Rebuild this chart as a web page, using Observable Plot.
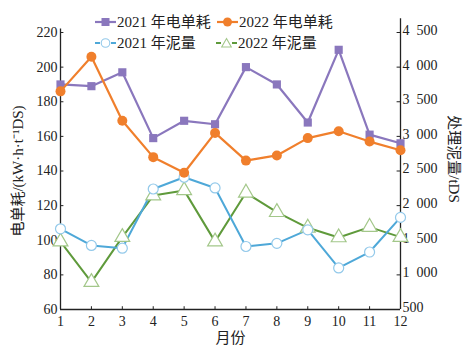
<!DOCTYPE html>
<html><head><meta charset="utf-8">
<script src="https://cdn.jsdelivr.net/npm/d3@7"></script>
<script src="https://cdn.jsdelivr.net/npm/@observablehq/plot@0.6"></script>
<style>
body{margin:0;background:#fff}
#wrap{position:relative;width:470px;height:355px;font-family:"Liberation Serif","Noto Sans CJK SC",serif}
.lg{position:absolute;display:flex;align-items:center;font-size:15px;color:#222;white-space:nowrap;line-height:1}
.lg svg{margin-right:1px}
</style>
</head><body><div id="wrap"></div>
<script>
const months = [1,2,3,4,5,6,7,8,9,10,11,12];
const elec2021 = [190,189,197,159,169,167,200,190,168,210,161,156];
const elec2022 = [186,206,169,148,139,162,146,149,159,163,157,152];
const sludge2021 = [1665,1425,1385,2240,2410,2255,1410,1455,1650,1100,1330,1830];
const sludge2022 = [1480,895,1545,2145,2220,1480,2185,1905,1680,1540,1690,1545];
const leftTicks = [60,80,100,120,140,160,180,200,220];
const rightTicks = [500,1000,1500,2000,2500,3000,3500,4000,4500];
const seriesNames = ["2021 年电单耗","2022 年电单耗","2021 年泥量","2022 年泥量"];
const colors = {purple:"#8a77bd", orange:"#f07f2c", blue:"#4ea8d8", blueMk:"#93c9ea", green:"#5f9a3b", greenMk:"#a3c78a"};

const toLeft = d3.scaleLinear().domain([500,4500]).range([60,220]);
const rows = (vals) => months.map((m,i)=>({m, v: vals[i]}));
const e21 = rows(elec2021), e22 = rows(elec2022);
const s21 = rows(sludge2021.map(v=>toLeft(v))), s22 = rows(sludge2022.map(v=>toLeft(v)));
const fmtR = v => { const r = Math.round(v); return r >= 1000 ? Math.floor(r/1000) + "\u2002" + String(r%1000).padStart(3,"0") : String(r); };

const font = `"Liberation Serif","Noto Sans CJK SC",serif`;
const chart = Plot.plot({
  width: 470, height: 355,
  marginLeft: 60, marginRight: 70, marginTop: 32, marginBottom: 46,
  style: {fontFamily: font, fontSize: "14px", color: "#222", background: "#fff", overflow: "visible"},
  x: {domain: [1,12]},
  y: {domain: [60,220]},
  marks: [
    Plot.axisY(leftTicks, {tickSize: 0, tickPadding: 3, label: null, fontSize: 14}),
    Plot.axisY(rightTicks.map(v=>toLeft(v)), {anchor: "right", tickSize: 0, tickPadding: 2, dy: -2, label: null, fontSize: 14, tickFormat: d => fmtR(toLeft.invert(d))}),
    Plot.axisX(months, {tickSize: 0, tickPadding: 7, label: null, fontSize: 14}),
    Plot.ruleY(leftTicks, {y: d=>d, x1: 1, x2: 1.11, stroke: "#222"}),
    Plot.ruleY(rightTicks.map(v=>toLeft(v)), {y: d=>d, x1: 11.89, x2: 12, stroke: "#222"}),
    Plot.ruleX(months, {x: d=>d, y1: 60, y2: 61.6, stroke: "#222"}),
    Plot.ruleX([1], {y1: 60, y2: 222, stroke: "#222", strokeWidth: 1.3}),
    Plot.ruleX([12], {y1: 60, y2: 228, stroke: "#222", strokeWidth: 1.3}),
    Plot.ruleY([60], {x1: 1, x2: 12, stroke: "#222", strokeWidth: 1.3}),
    Plot.line(s22, {x: "m", y: "v", stroke: colors.green, strokeWidth: 2}),
    Plot.line(s21, {x: "m", y: "v", stroke: colors.blue, strokeWidth: 2}),
    Plot.dot(s22, {x: "m", y: "v", symbol: "triangle", r: 5.5, stroke: colors.greenMk, fill: "#fff", strokeWidth: 1.2}),
    Plot.dot(s21, {x: "m", y: "v", symbol: "circle", r: 5, stroke: colors.blueMk, fill: "#fff", strokeWidth: 1.2}),
    Plot.line(e21, {x: "m", y: "v", stroke: colors.purple, strokeWidth: 2.2}),
    Plot.dot(e21, {x: "m", y: "v", symbol: "square", r: 4.6, fill: colors.purple, stroke: "none"}),
    Plot.line(e22, {x: "m", y: "v", stroke: colors.orange, strokeWidth: 2.2}),
    Plot.dot(e22, {x: "m", y: "v", symbol: "circle", r: 5, fill: colors.orange, stroke: "none"}),
    Plot.text(["电单耗/(kW·h·t⁻¹DS)"], {frameAnchor: "left", rotate: -90, dx: -42, textAnchor: "middle", fontSize: 15, fill: "#222"}),
    Plot.text(["处理泥量/tDS"], {frameAnchor: "right", rotate: 90, dx: 53, dy: -12, textAnchor: "middle", fontSize: 15, fill: "#222"}),
    Plot.text(["月份"], {frameAnchor: "bottom", dy: 33, textAnchor: "middle", fontSize: 15, fill: "#222"})
  ]
});
const wrap = document.getElementById("wrap");
wrap.appendChild(chart);

function sym(kind, line, mk, dashed){
  const ln = dashed
    ? `<line x1="0" y1="8" x2="5" y2="8" stroke="${line}" stroke-width="2"/><line x1="16" y1="8" x2="21" y2="8" stroke="${line}" stroke-width="2"/>`
    : `<line x1="0" y1="8" x2="21" y2="8" stroke="${line}" stroke-width="2.2"/>`;
  let m = "";
  if (kind==="square") m = `<rect x="6.5" y="4" width="8" height="8" fill="${mk}"/>`;
  if (kind==="dot") m = `<circle cx="10.5" cy="8" r="4.5" fill="${mk}"/>`;
  if (kind==="circle") m = `<circle cx="10.5" cy="8" r="4.3" fill="#fff" stroke="${mk}" stroke-width="1.1"/>`;
  if (kind==="tri") m = `<path d="M10.5,3.5 L15.3,12 L5.7,12 Z" fill="#fff" stroke="${mk}" stroke-width="1.1"/>`;
  return `<svg width="21" height="16">${ln}${m}</svg>`;
}
const items = [
  {name: seriesNames[0], left: 95, top: 14, s: sym("square", colors.purple, colors.purple, false)},
  {name: seriesNames[1], left: 217, top: 14, s: sym("dot", colors.orange, colors.orange, false)},
  {name: seriesNames[2], left: 95, top: 35, s: sym("circle", colors.blue, colors.blueMk, true)},
  {name: seriesNames[3], left: 216, top: 35, s: sym("tri", colors.green, colors.greenMk, true)}
];
for (const it of items){
  const d = document.createElement("div");
  d.className = "lg";
  d.style.left = it.left + "px"; d.style.top = it.top + "px";
  d.innerHTML = it.s + `<span>${it.name}</span>`;
  wrap.appendChild(d);
}
</script>
</body></html>
